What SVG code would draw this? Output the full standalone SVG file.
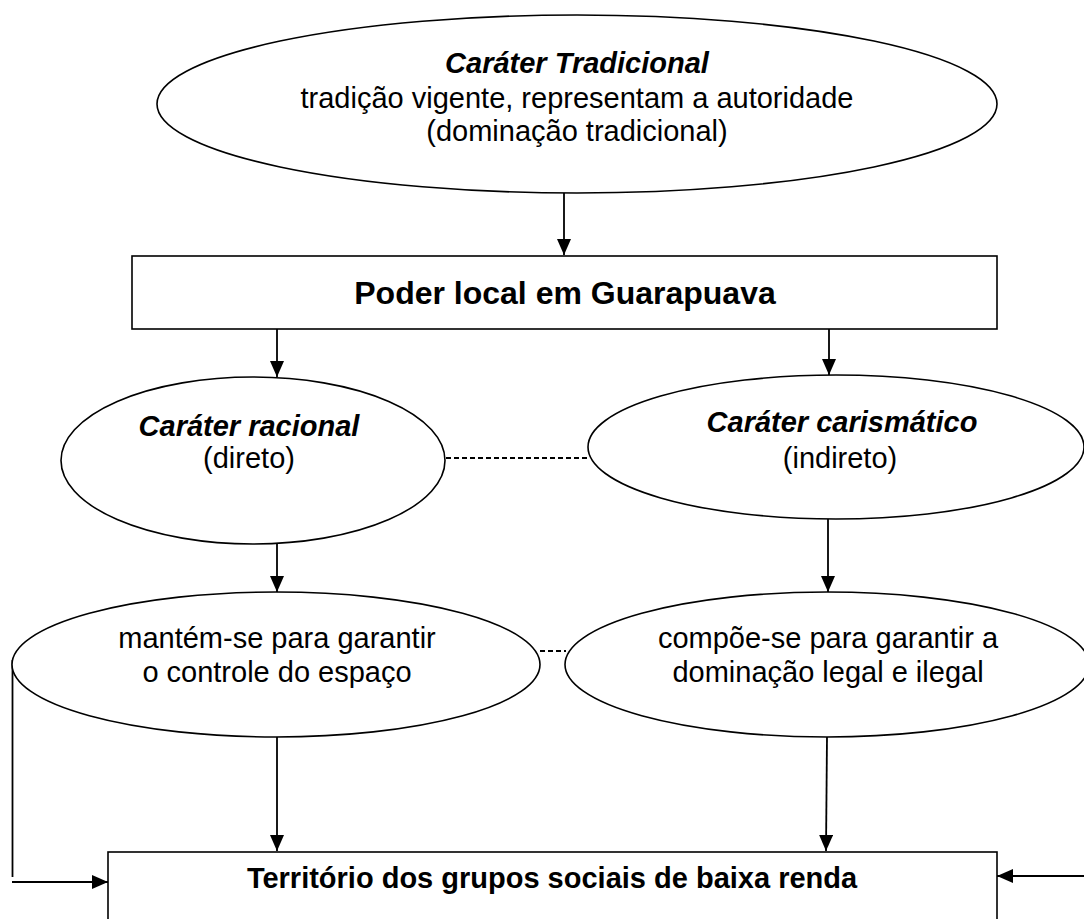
<svg xmlns="http://www.w3.org/2000/svg" width="1084" height="919" viewBox="0 0 1084 919">
<style>
.shape{fill:#fff;stroke:#000;stroke-width:1.6}
.t{font-family:"Liberation Sans",Arial,sans-serif;font-size:29px;fill:#000;text-anchor:middle}
.bi{font-weight:bold;font-style:italic}
.b{font-weight:bold}
.ln{stroke:#000;stroke-width:1.8;fill:none}
.dash{stroke:#000;stroke-width:1.8;fill:none;stroke-dasharray:5,3}
</style>
<defs>
<marker id="arr" markerUnits="userSpaceOnUse" markerWidth="16" markerHeight="14" refX="16" refY="7" orient="auto">
<path d="M0,0 L16,7 L0,14 z" fill="#000"/>
</marker>
</defs>
<rect width="1084" height="919" fill="#fff"/>
<g id="connectors">
<line class="ln" x1="564" y1="193" x2="564" y2="255" marker-end="url(#arr)"/>
<line class="ln" x1="277" y1="329" x2="277" y2="377" marker-end="url(#arr)"/>
<line class="ln" x1="829" y1="329" x2="829" y2="375" marker-end="url(#arr)"/>
<line class="dash" x1="446" y1="458" x2="588" y2="458"/>
<line class="ln" x1="277" y1="544" x2="277" y2="592" marker-end="url(#arr)"/>
<line class="ln" x1="828" y1="519" x2="828" y2="592" marker-end="url(#arr)"/>
<line class="dash" x1="540" y1="651" x2="566" y2="651"/>
<line class="ln" x1="277" y1="737" x2="277" y2="851" marker-end="url(#arr)"/>
<line class="ln" x1="827" y1="737" x2="826" y2="851" marker-end="url(#arr)"/>
<line class="ln" x1="12.5" y1="660" x2="12.5" y2="877"/>
<line class="ln" x1="12" y1="882" x2="108" y2="882" marker-end="url(#arr)"/>
<line class="ln" x1="1084" y1="876" x2="997" y2="876" marker-end="url(#arr)"/>
</g>
<g id="n_tradicional">
<ellipse class="shape" cx="577" cy="104" rx="420" ry="89"/>
<text class="t bi" x="577" y="73">Caráter Tradicional</text>
<text class="t" x="577" y="108">tradição vigente, representam a autoridade</text>
<text class="t" x="577" y="141">(dominação tradicional)</text>
</g>
<g id="n_poder">
<rect class="shape" x="132" y="256" width="865" height="73"/>
<text class="t b" x="565" y="304" style="font-size:32px">Poder local em Guarapuava</text>
</g>
<g id="n_racional">
<ellipse class="shape" cx="253" cy="460.5" rx="192" ry="83.5"/>
<text class="t bi" x="249" y="436">Caráter racional</text>
<text class="t" x="249" y="468">(direto)</text>
</g>
<g id="n_carismatico">
<ellipse class="shape" cx="836" cy="447" rx="248" ry="72"/>
<text class="t bi" x="842" y="432">Caráter carismático</text>
<text class="t" x="840" y="468">(indireto)</text>
</g>
<g id="n_mantem">
<ellipse class="shape" cx="276" cy="664.5" rx="264" ry="72.5"/>
<text class="t" x="277" y="648">mantém-se para garantir</text>
<text class="t" x="277" y="682">o controle do espaço</text>
</g>
<g id="n_compoe">
<ellipse class="shape" cx="827" cy="664.5" rx="262" ry="72.5"/>
<text class="t" x="828" y="648">compõe-se para garantir a</text>
<text class="t" x="828" y="682">dominação legal e ilegal</text>
</g>
<g id="n_territorio">
<rect class="shape" x="108" y="852" width="889" height="80"/>
<text class="t b" x="552" y="888">Território dos grupos sociais de baixa renda</text>
</g>
</svg>
